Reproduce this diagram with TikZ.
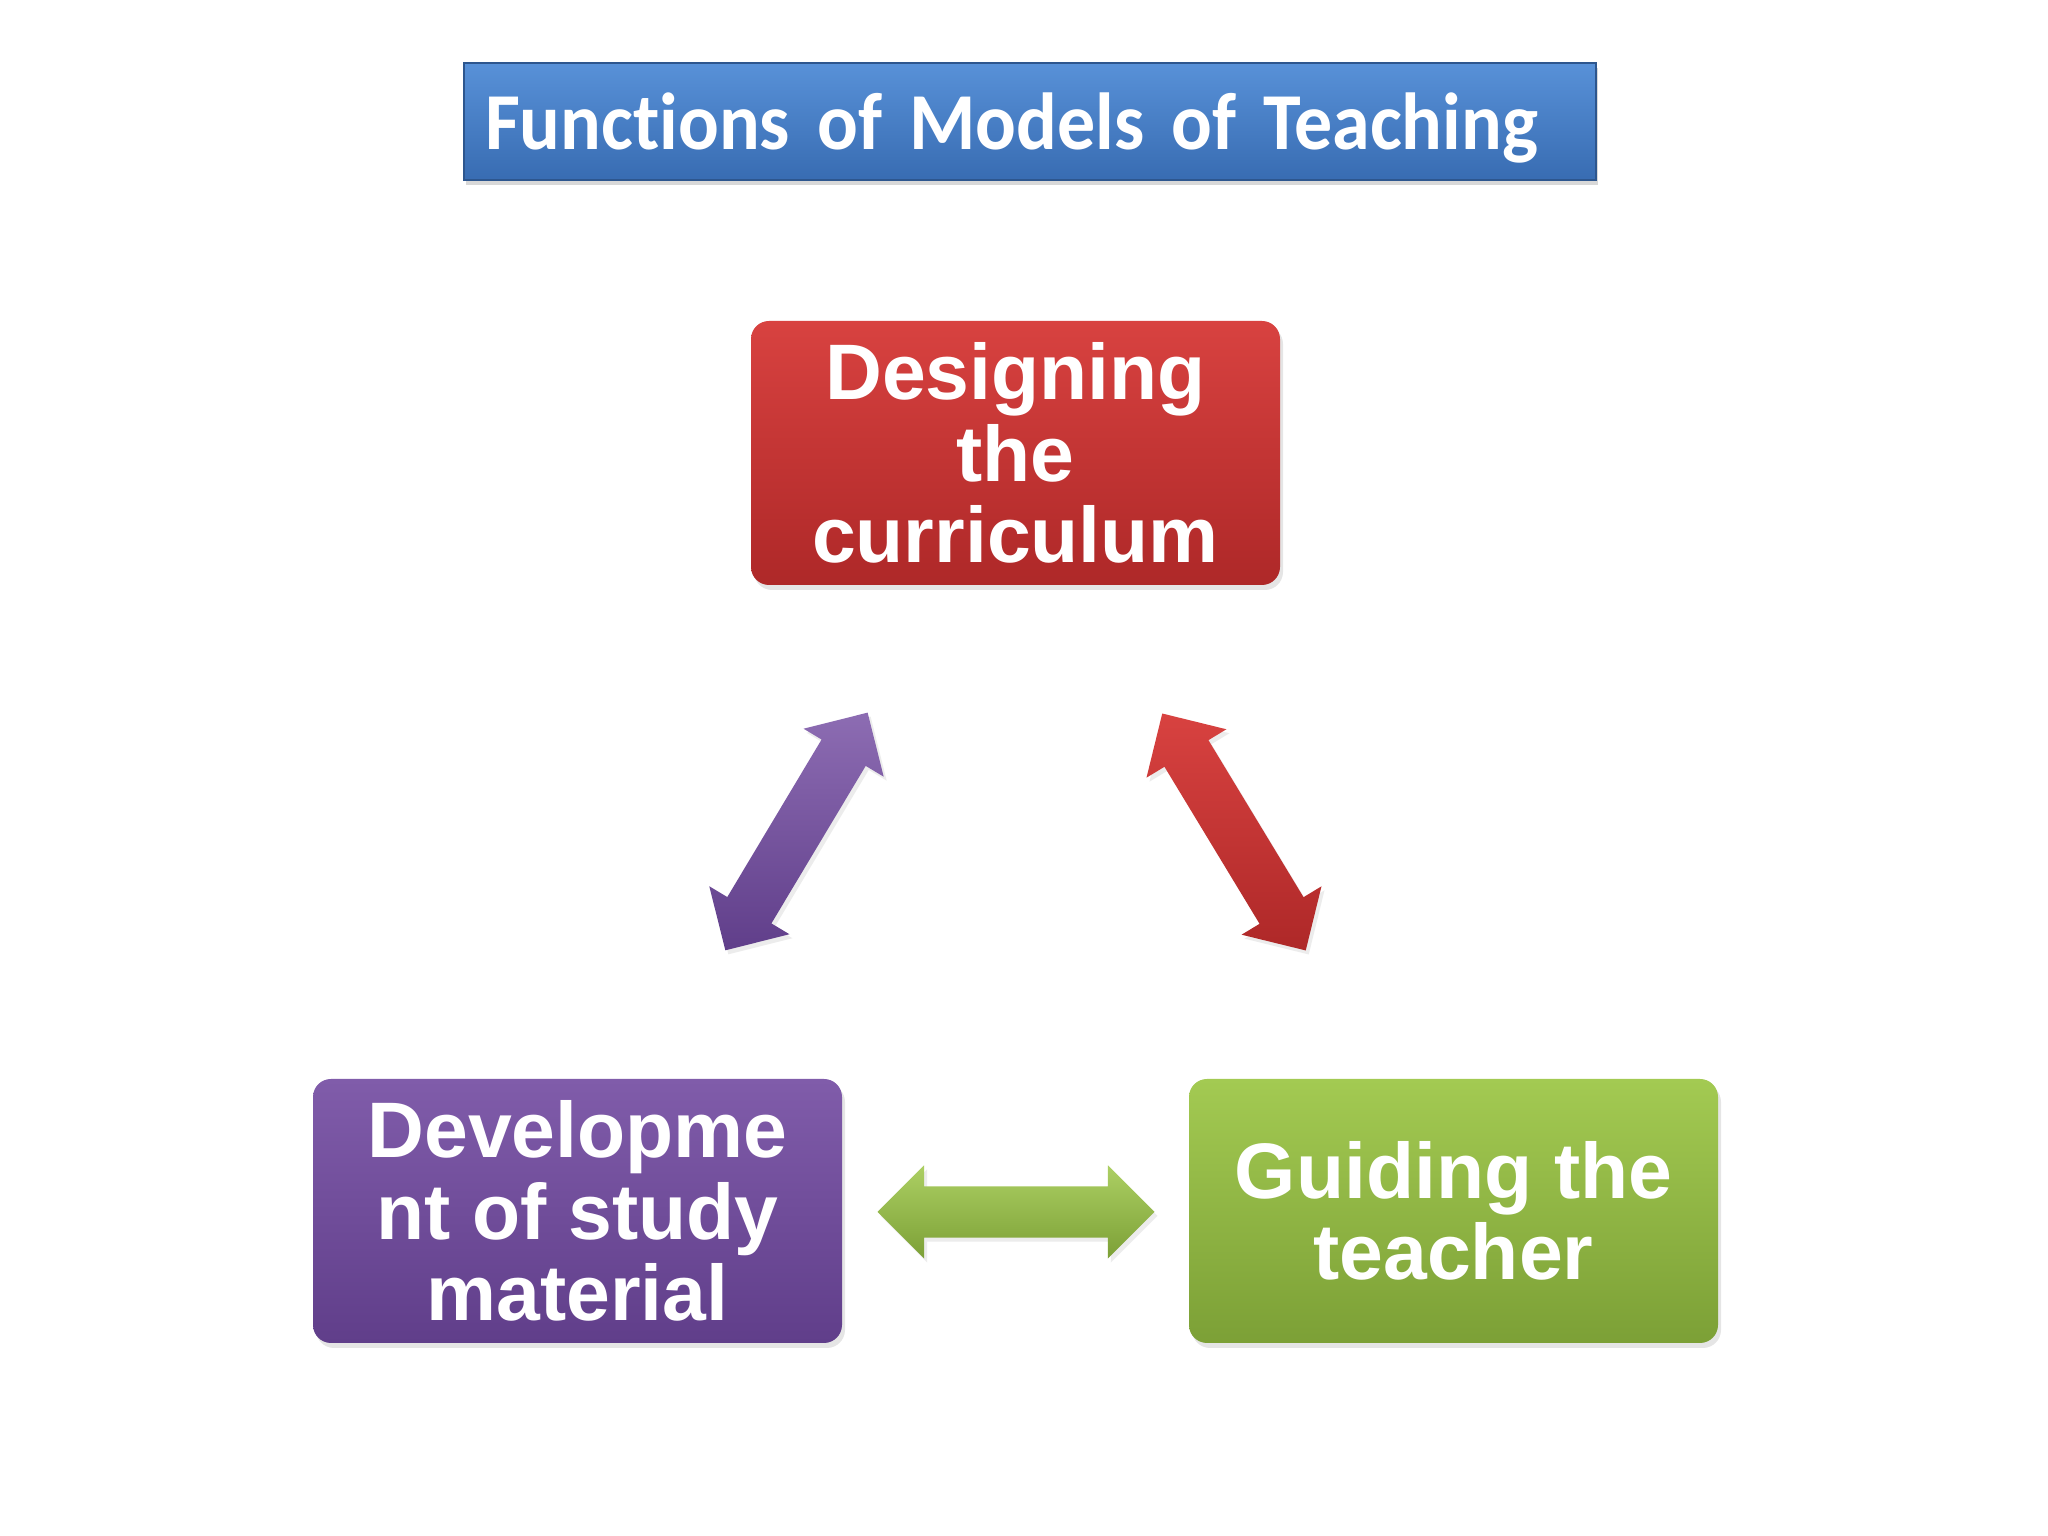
\documentclass[tikz,border=0pt]{standalone}
\usepackage{fontspec}
\setmainfont{Liberation Sans}
\newfontfamily\titlefont[Ligatures=NoCommon,FakeStretch=0.94]{Carlito}
\usetikzlibrary{shapes.arrows,shadows}
\definecolor{titletop}{RGB}{88,145,216}
\definecolor{titlebot}{RGB}{56,108,178}
\definecolor{redtop}{RGB}{216,66,64}
\definecolor{redbot}{RGB}{174,40,40}
\definecolor{purptop}{RGB}{128,92,170}
\definecolor{purpbot}{RGB}{96,62,138}
\definecolor{greentop}{RGB}{163,202,82}
\definecolor{greenbot}{RGB}{124,160,54}
\tikzset{
	box/.style={rounded corners=0.18cm, minimum width=5.29cm, minimum height=2.64cm, align=center, text=white, font=\fontsize{22.4}{23.2}\selectfont\bfseries, drop shadow={opacity=0.2, shadow xshift=0.03cm, shadow yshift=-0.05cm}},
	dblarr/.style={double arrow, double arrow head extend=0.21cm, inner xsep=0pt, inner ysep=0.25cm, minimum height=2.77cm, drop shadow={opacity=0.15, shadow xshift=0.03cm, shadow yshift=-0.04cm}}
}
\begin{document}
\begin{tikzpicture}
			\useasboundingbox[fill=white] (0,0) rectangle (20.48,15.36);
			\node[minimum width=11.32cm, minimum height=1.17cm, text width=10.9cm, text depth=0pt, align=left, top color=titletop, bottom color=titlebot, draw=titlebot!80!black, line width=0.6pt, text=white, font=\titlefont\fontsize{23}{26}\selectfont\bfseries, drop shadow={opacity=0.3, shadow xshift=0.02cm, shadow yshift=-0.05cm}] (title) at (10.30,14.145) {Functions of Models of Teaching};
			\node[box, top color=redtop, bottom color=redbot] (design) at (10.155,10.83) {Designing\\the\\curriculum};
			\node[box, top color=purptop, bottom color=purpbot] (develop) at (5.775,3.25) {Developme\\nt of study\\material};
			\node[box, top color=greentop, bottom color=greenbot] (guide) at (14.535,3.25) {Guiding the\\teacher};
			\node[dblarr, rotate=59.1, top color=purptop!90!white, bottom color=purpbot] (arrDD) at (7.965,7.045) {};
			\node[dblarr, rotate=-58.8, top color=redtop, bottom color=redbot] (arrDG) at (12.34,7.04) {};
			\node[dblarr, top color=greentop!90!white, bottom color=greenbot] (arrDvG) at (10.16,3.24) {};
		\end{tikzpicture}
\end{document}
